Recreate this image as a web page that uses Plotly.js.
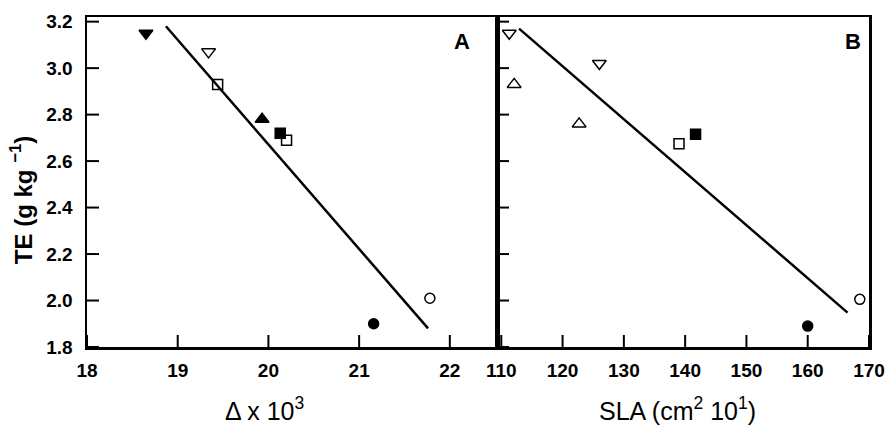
<!DOCTYPE html>
<html>
<head>
<meta charset="utf-8">
<script src="https://cdn.plot.ly/plotly-3.0.1.min.js"></script>
<style>html,body{margin:0;padding:0;background:#fff;}#chart{width:890px;height:426px;}</style>
</head>
<body>
<div id="chart"></div>
<script>
// Panel A: carbon isotope discrimination (Δ x 10^3) vs TE
const deltaX = [18.65, 19.34, 19.44, 19.93, 20.13, 20.20, 21.16, 21.78];
const teA    = [3.15, 3.07, 2.93, 2.78, 2.72, 2.69, 1.90, 2.01];
const symA   = ['triangle-down', 'triangle-down-open', 'square-open', 'triangle-up', 'square', 'square-open', 'circle', 'circle-open'];
const fitAX  = [18.87, 21.76];
const fitAY  = [3.18, 1.88];

// Panel B: SLA vs TE
const slaX   = [111.3, 112.1, 126.0, 122.7, 139.0, 141.7, 160.0, 168.5];
const teB    = [3.15, 2.93, 3.02, 2.76, 2.675, 2.715, 1.89, 2.005];
const symB   = ['triangle-down-open', 'triangle-up-open', 'triangle-down-open', 'triangle-up-open', 'square-open', 'square', 'circle', 'circle-open'];
const fitBX  = [112.9, 166.5];
const fitBY  = [3.17, 1.948];

const xTicksA = [18, 19, 20, 21, 22];
const xTicksB = [110, 120, 130, 140, 150, 160, 170];
const yTicks  = [1.8, 2.0, 2.2, 2.4, 2.6, 2.8, 3.0, 3.2];

const W = 890, H = 426, M = {l: 87, r: 21, t: 17, b: 79};
const split = 0.5243;
const rangeXA = [18, 22.52], rangeXB = [109.3, 170], rangeY = [1.8, 3.22];
const TICKLEN = 12; // px

function sizes(syms) { return syms.map(s => s.startsWith('triangle') ? 12 : 10); }

// convert the pixel tick length to axis units
const plotW = W - M.l - M.r, plotH = H - M.t - M.b;
const lenXA = TICKLEN * (rangeXA[1] - rangeXA[0]) / (plotW * split);
const lenXB = TICKLEN * (rangeXB[1] - rangeXB[0]) / (plotW * (1 - split));
const lenY  = TICKLEN * (rangeY[1] - rangeY[0]) / plotH;

function xTickTrace(vals, xa, ya) {
  const x = [], y = [];
  vals.forEach(v => { x.push(v, v, null); y.push(rangeY[0], rangeY[0] + lenY, null); });
  return {x, y, mode: 'lines', line: {color: '#000', width: 2}, xaxis: xa, yaxis: ya, hoverinfo: 'skip'};
}
function yTickTrace(vals, x0, len, xa, ya) {
  const x = [], y = [];
  vals.forEach(v => { x.push(x0, x0 + len, null); y.push(v, v, null); });
  return {x, y, mode: 'lines', line: {color: '#000', width: 2}, xaxis: xa, yaxis: ya, hoverinfo: 'skip'};
}

const traces = [
  xTickTrace(xTicksA, 'x', 'y'),
  yTickTrace(yTicks, rangeXA[0], lenXA, 'x', 'y'),
  xTickTrace(xTicksB, 'x2', 'y2'),
  yTickTrace(yTicks, rangeXB[0], lenXB, 'x2', 'y2'),
  {x: fitAX, y: fitAY, mode: 'lines', line: {color: '#000', width: 2.5}, xaxis: 'x', yaxis: 'y', hoverinfo: 'skip'},
  {x: deltaX, y: teA, mode: 'markers', xaxis: 'x', yaxis: 'y',
   marker: {symbol: symA, size: sizes(symA), color: '#000', opacity: 1, line: {color: '#000', width: 1.5}}},
  {x: fitBX, y: fitBY, mode: 'lines', line: {color: '#000', width: 2.5}, xaxis: 'x2', yaxis: 'y2', hoverinfo: 'skip'},
  {x: slaX, y: teB, mode: 'markers', xaxis: 'x2', yaxis: 'y2',
   marker: {symbol: symB, size: sizes(symB), color: '#000', opacity: 1, line: {color: '#000', width: 1.5}}}
];

const FONT = 'Liberation Sans, Arial, sans-serif';
const tickFont = {family: FONT, size: 19, color: '#000', weight: 'bold'};

function ax(extra) {
  return Object.assign({
    showgrid: false, zeroline: false, showline: true, linecolor: '#000', linewidth: 2.5,
    mirror: true, ticks: '', tickfont: tickFont
  }, extra);
}

const layout = {
  width: W, height: H,
  margin: M,
  paper_bgcolor: '#fff', plot_bgcolor: '#fff',
  showlegend: false,
  xaxis: ax({domain: [0, split], range: rangeXA, tickmode: 'array', tickvals: xTicksA,
    ticklabelstandoff: 5, anchor: 'y'}),
  yaxis: ax({domain: [0, 1], range: rangeY, tickmode: 'array', tickvals: yTicks,
    tickformat: '.1f', ticklabelstandoff: 8, anchor: 'x'}),
  xaxis2: ax({domain: [split, 1], range: rangeXB, tickmode: 'array', tickvals: xTicksB,
    ticklabelstandoff: 5, anchor: 'y2'}),
  yaxis2: ax({domain: [0, 1], range: rangeY, tickmode: 'array', tickvals: yTicks,
    showticklabels: false, anchor: 'x2'}),
  annotations: [
    {text: 'A', xref: 'paper', yref: 'paper', x: 0.479, y: 0.925, xanchor: 'center', yanchor: 'middle', showarrow: false,
     font: {family: FONT, size: 22, color: '#000', weight: 'bold'}},
    {text: 'B', xref: 'paper', yref: 'paper', x: 0.9795, y: 0.925, xanchor: 'center', yanchor: 'middle', showarrow: false,
     font: {family: FONT, size: 22, color: '#000', weight: 'bold'}},
    {text: 'TE (g kg <sup>−1</sup>)', xref: 'paper', yref: 'paper', x: -0.084, y: 0.446, textangle: -90,
     xanchor: 'center', yanchor: 'middle', showarrow: false,
     font: {family: FONT, size: 24, color: '#000', weight: 'bold'}},
    {text: 'Δ x 10<sup>3</sup>', xref: 'paper', yref: 'paper', x: 0.2276, y: -0.188,
     xanchor: 'center', yanchor: 'middle', showarrow: false,
     font: {family: FONT, size: 25, color: '#000'}},
    {text: 'SLA (cm<sup>2</sup> 10<sup>1</sup>)', xref: 'paper', yref: 'paper', x: 0.7545, y: -0.188,
     xanchor: 'center', yanchor: 'middle', showarrow: false,
     font: {family: FONT, size: 25, color: '#000'}}
  ]
};

Plotly.newPlot('chart', traces, layout, {displayModeBar: false, staticPlot: true});
</script>
</body>
</html>
